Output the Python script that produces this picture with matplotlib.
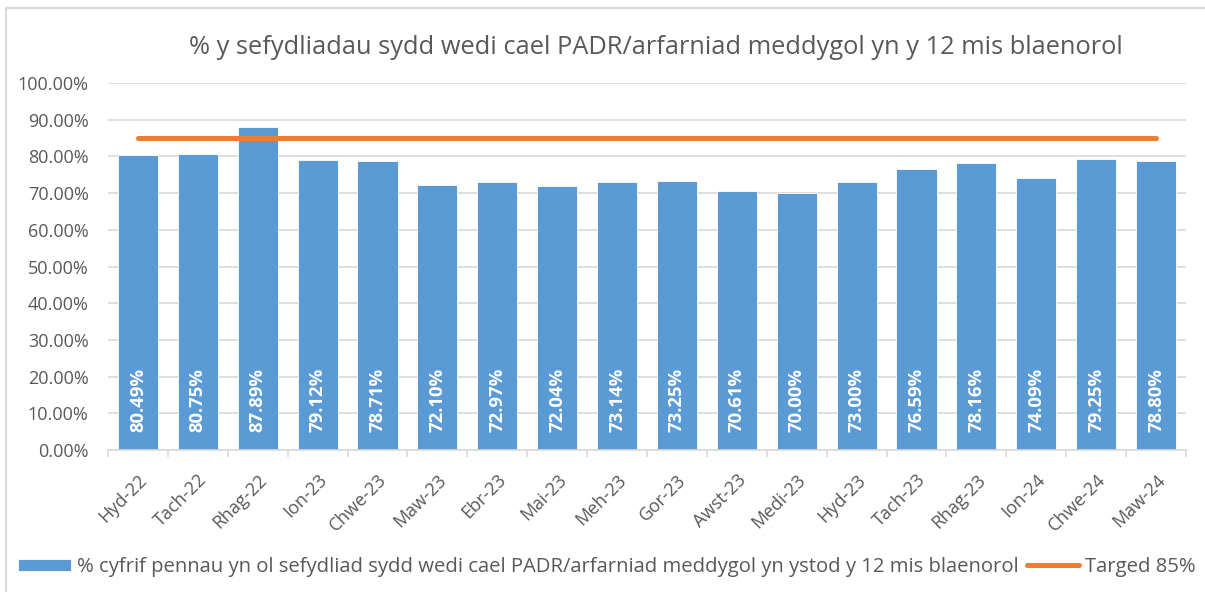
import matplotlib.pyplot as plt
import numpy as np

plt.rcParams["font.family"] = ["Open Sans", "DejaVu Sans"]

months = ["Hyd-22", "Tach-22", "Rhag-22", "Ion-23", "Chwe-23", "Maw-23",
          "Ebr-23", "Mai-23", "Meh-23", "Gor-23", "Awst-23", "Medi-23",
          "Hyd-23", "Tach-23", "Rhag-23", "Ion-24", "Chwe-24", "Maw-24"]
values = [80.49, 80.75, 87.89, 79.12, 78.71, 72.10, 72.97, 72.04, 73.14,
          73.25, 70.61, 70.00, 73.00, 76.59, 78.16, 74.09, 79.25, 78.80]
target = [85.0] * len(months)

title = "% y sefydliadau sydd wedi cael PADR/arfarniad meddygol yn y 12 mis blaenorol"
bar_label = ("% cyfrif pennau yn ol sefydliad sydd wedi cael PADR/arfarniad "
             "meddygol yn ystod y 12 mis blaenorol")
line_label = "Targed 85%"

blue = "#5B9BD5"
orange = "#ED7D31"
grey_text = "#595959"
grid_col = "#D9D9D9"

W, H = 1205, 592
fig = plt.figure(figsize=(W / 100, H / 100), dpi=100)
ax = fig.add_axes([108 / W, 1 - 450 / H, (1186 - 108) / W, (450 - 83) / H])

x = np.arange(len(months))
vals = np.array(values) / 100
bars = ax.bar(x, vals, width=0.67, color=blue, edgecolor="white",
              linewidth=0.6, zorder=2, label=bar_label)
line, = ax.plot(x, np.array(target) / 100, color=orange, lw=3.6,
                solid_capstyle="round", zorder=3, label=line_label)

# data labels, inside the base of each bar
for xi, v in zip(x, values):
    ax.text(xi, 0.048, f"{v:.2f}%", rotation=90, ha="center", va="bottom",
            color="white", fontsize=13.3, fontweight="bold", zorder=4)

ax.set_xlim(-0.5, len(months) - 0.5)
ax.set_ylim(0, 1.0)
yt = np.arange(0, 1.01, 0.1)
ax.set_yticks(yt)
ax.set_yticklabels([f"{t * 100:.2f}%" for t in yt], fontsize=13, color=grey_text)
ax.yaxis.grid(True, color=grid_col, lw=1.2, zorder=0)
ax.tick_params(axis="y", length=0, pad=14)

ax.set_xticks(x)
ax.set_xticklabels(months, rotation=45, ha="right", va="top",
                   rotation_mode="anchor", fontsize=13, color=grey_text)
ax.set_xticks(np.arange(-0.5, len(months)), minor=True)
ax.tick_params(axis="x", which="major", length=0, pad=15)
ax.tick_params(axis="x", which="minor", length=5, color=grid_col, width=1.2)

for s in ["top", "right", "left"]:
    ax.spines[s].set_visible(False)
ax.spines["bottom"].set_color(grid_col)
ax.spines["bottom"].set_linewidth(1.2)

fig.text(656 / W, 1 - 47 / H, title, ha="center", va="center",
         fontsize=18.3, color=grey_text)

# chart border (top and left edges visible)
fig.add_artist(plt.Line2D([6 / W, 1], [1 - 8 / H, 1 - 8 / H],
                          transform=fig.transFigure, color=grid_col, lw=1.5))
fig.add_artist(plt.Line2D([6 / W, 6 / W], [0, 1 - 8 / H],
                          transform=fig.transFigure, color=grid_col, lw=1.5))

leg = fig.legend(handles=[bars, line], loc="center left",
                 bbox_to_anchor=(18 / W, 1 - 567 / H), ncol=2, frameon=False,
                 fontsize=14.6, handlelength=2.6, handleheight=0.55,
                 handletextpad=0.3, columnspacing=0.4, borderpad=0,
                 borderaxespad=0)
for t in leg.get_texts():
    t.set_color(grey_text)

fig.savefig("out.png", dpi=100)
